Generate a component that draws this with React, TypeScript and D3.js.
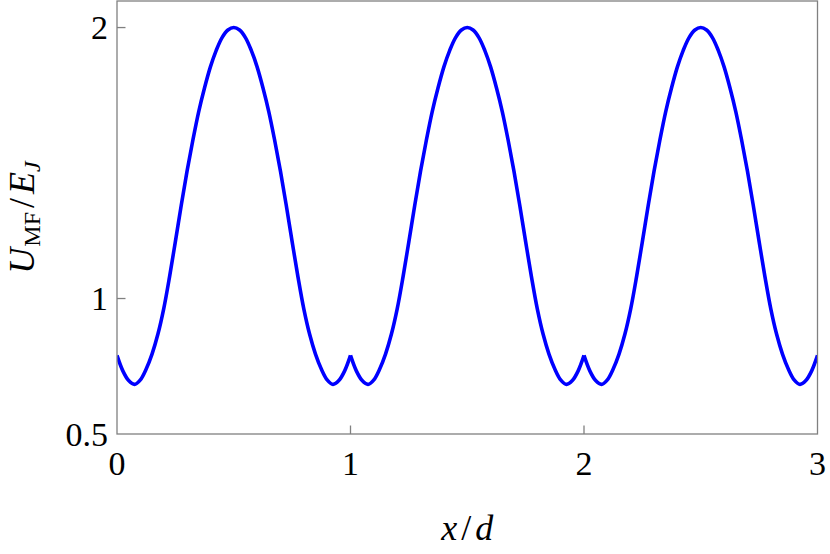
import React from "react";
import * as d3 from "d3";

const sampleX = [
  0, 0.025, 0.05, 0.075, 0.1, 0.125, 0.15, 0.175, 0.2, 0.225, 0.25, 0.275, 0.3, 0.325, 0.35, 0.375, 0.4, 0.425, 0.45, 0.475, 0.5,
  0.525, 0.55, 0.575, 0.6, 0.625, 0.65, 0.675, 0.7, 0.725, 0.75, 0.775, 0.8, 0.825, 0.85, 0.875, 0.9, 0.925, 0.95, 0.975, 1,
];
const periodValues = [
  0.79, 0.733, 0.697, 0.683, 0.7, 0.74, 0.795, 0.868, 0.962, 1.08, 1.21, 1.343, 1.47, 1.585, 1.69, 1.778, 1.855, 1.916, 1.963, 1.991, 2.0,
  1.991, 1.963, 1.916, 1.855, 1.778, 1.69, 1.585, 1.47, 1.343, 1.21, 1.08, 0.962, 0.868, 0.795, 0.74, 0.7, 0.683, 0.697, 0.733, 0.79,
];
const periodStarts = [0, 1, 2];
const xTicks = [0, 1, 2, 3];
const yTicks = [0.5, 1, 2];

const W = 830;
const H = 554;
const left = 117;
const right = 817.5;
const top = 1;
const bottom = 434;

export default function App() {
  const x = d3.scaleLinear().domain([0, 3]).range([left, right]);
  const y = d3.scaleLinear().domain([0.5, 2.098]).range([bottom, top]);
  const line = d3
    .line<[number, number]>()
    .x((d) => x(d[0]))
    .y((d) => y(d[1]))
    .curve(d3.curveCatmullRom.alpha(0.5));

  const font = "'Liberation Serif', 'Times New Roman', serif";
  const axisColor = "#808080";

  return (
    <svg
      width={W}
      height={H}
      style={{ position: "absolute", left: 0, top: 0, background: "#fff" }}
      fontFamily={font}
    >
      <defs>
        <clipPath id="plotclip">
          <rect x={left} y={top} width={right - left} height={bottom - top} />
        </clipPath>
      </defs>
      <g clipPath="url(#plotclip)">
        {periodStarts.map((p) => (
          <path
            key={p}
            d={line(sampleX.map((sx, i) => [p + sx, periodValues[i]] as [number, number])) || ""}
            fill="none"
            stroke="#0000ff"
            strokeWidth={3.6}
            strokeLinejoin="round"
          />
        ))}
      </g>
      {/* frame */}
      <rect
        x={left}
        y={top}
        width={right - left}
        height={bottom - top}
        fill="none"
        stroke={axisColor}
        strokeWidth={1.3}
      />
      {/* x ticks */}
      {xTicks.map((t) => (
        <g key={"x" + t}>
          {t > 0 && t < 3 && (
            <line x1={x(t)} x2={x(t)} y1={bottom} y2={bottom - 8.5} stroke={axisColor} strokeWidth={1.3} />
          )}
          <text x={x(t)} y={475} fontSize={34} textAnchor="middle" fill="#000">
            {t}
          </text>
        </g>
      ))}
      {/* y ticks */}
      {yTicks.map((t) => (
        <g key={"y" + t}>
          {t > 0.5 && (
            <line x1={left} x2={left + 8.5} y1={y(t)} y2={y(t)} stroke={axisColor} strokeWidth={1.3} />
          )}
          <text x={108} y={y(t) + 11.5} fontSize={34} textAnchor="end" fill="#000">
            {t}
          </text>
        </g>
      ))}
      {/* x label */}
      <text x={(left + right) / 2} y={540} fontSize={36} textAnchor="middle" fill="#000">
        <tspan fontStyle="italic">x</tspan>
        <tspan dx={4}>/</tspan>
        <tspan dx={4} fontStyle="italic">d</tspan>
      </text>
      {/* y label */}
      <text
        transform={`translate(34, ${(top + bottom) / 2}) rotate(-90)`}
        fontSize={36}
        textAnchor="middle"
        fill="#000"
      >
        <tspan fontStyle="italic">U</tspan>
        <tspan fontSize={24} dy={6} dx={1}>MF</tspan>
        <tspan dy={-6} dx={4}>/</tspan>
        <tspan dx={4} fontStyle="italic">E</tspan>
        <tspan fontSize={24} fontStyle="italic" dy={6}>J</tspan>
      </text>
    </svg>
  );
}
